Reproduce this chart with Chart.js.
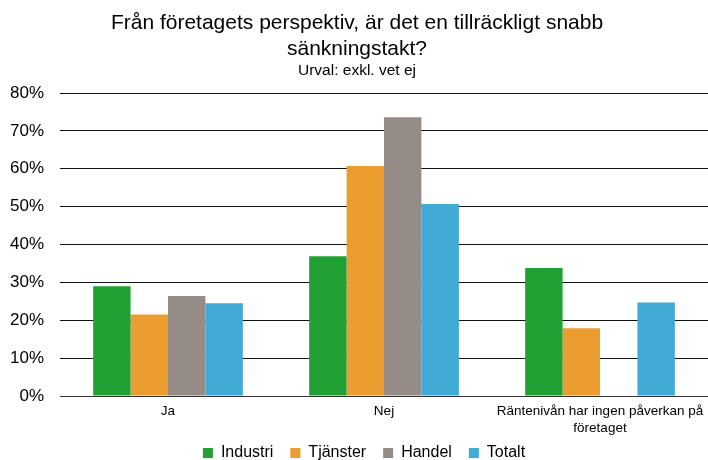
<!DOCTYPE html>
<html>
<head>
<meta charset="utf-8">
<script src="https://cdn.jsdelivr.net/npm/chart.js@4/dist/chart.umd.min.js"></script>
<style>
  html, body { margin: 0; padding: 0; background: #fff; }
  #wrap { width: 708px; height: 460px; }
</style>
</head>
<body>
<div id="wrap"><canvas id="myChart"></canvas></div>
<script>
// Data
const kategorier = ['Ja', 'Nej', ['Räntenivån har ingen påverkan på', 'företaget']];
const industri = [29.0, 36.9, 33.8];
const tjanster = [21.5, 60.7, 17.9];
const handel = [26.4, 73.6, null];
const totalt = [24.5, 50.7, 24.7];
const yTicks = [0, 10, 20, 30, 40, 50, 60, 70, 80];

Chart.defaults.font.family = '"Liberation Sans", Arial, sans-serif';
Chart.defaults.color = '#000';

// flytta upp legenden lite, närmare axeltexterna (botten ligger kvar)
const legendShift = {
  id: 'legendShift',
  afterLayout(chart) {
    const lg = chart.legend;
    lg.top -= 8;
    lg.height += 8;
    lg.left += 7;
    lg.right += 7;
  }
};

const ctx = document.getElementById('myChart').getContext('2d');
const myChart = new Chart(ctx, {
  type: 'bar',
  data: {
    labels: kategorier,
    datasets: [
      { label: 'Industri', data: industri, backgroundColor: '#21a133' },
      { label: 'Tjänster', data: tjanster, backgroundColor: '#eb9d30' },
      { label: 'Handel', data: handel, backgroundColor: '#958c87' },
      { label: 'Totalt', data: totalt, backgroundColor: '#42aad6' }
    ]
  },
  plugins: [legendShift],
  options: {
    responsive: true,
    maintainAspectRatio: false,
    animation: false,
    layout: { padding: { top: 0, left: 6, right: 0, bottom: 0 } },
    datasets: {
      bar: { categoryPercentage: 0.693, barPercentage: 1.0 }
    },
    plugins: {
      title: {
        display: true,
        text: ['Från företagets perspektiv, är det en tillräckligt snabb', 'sänkningstakt?'],
        font: { size: 21, weight: 'normal' },
        lineHeight: 1.143,
        padding: { top: 11, bottom: 0 }
      },
      subtitle: {
        display: true,
        text: 'Urval: exkl. vet ej',
        font: { size: 15.5, lineHeight: 1.2 },
        padding: { top: 0, bottom: 13 }
      },
      legend: {
        position: 'bottom',
        maxHeight: 24,
        labels: {
          boxWidth: 10,
          boxHeight: 10,
          padding: 17,
          font: { size: 16 }
        }
      },
      tooltip: { enabled: false }
    },
    scales: {
      x: {
        grid: { display: false, drawTicks: false },
        border: { color: '#333' },
        ticks: { font: { size: 13.5, lineHeight: 1.25 }, padding: 7, maxRotation: 0 },
        afterFit: s => { s.height = 40; s.paddingRight = 0; s.paddingLeft = 0; }
      },
      y: {
        min: 0,
        max: 80,
        afterBuildTicks: axis => { axis.ticks = yTicks.map(v => ({ value: v })); },
        afterFit: s => { s.width = 54; },
        grid: { color: '#111', drawTicks: false },
        border: { display: false },
        ticks: {
          font: { size: 17 },
          padding: 16,
          callback: v => v + '%'
        }
      }
    }
  }
});
</script>
</body>
</html>
